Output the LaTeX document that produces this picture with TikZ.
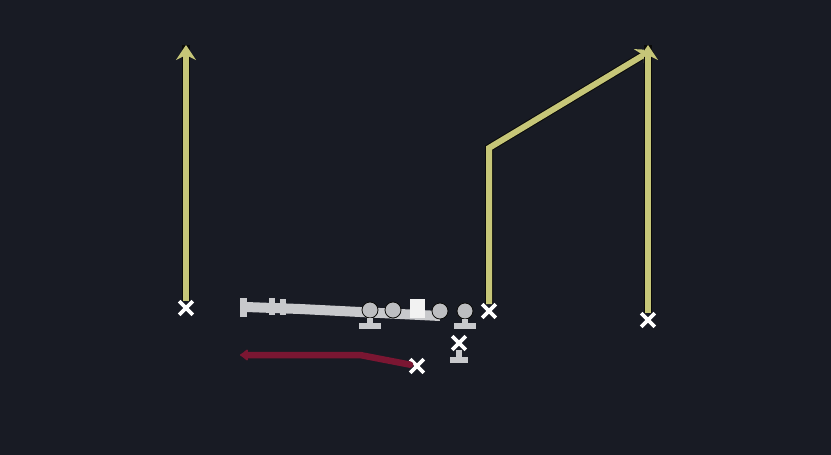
\documentclass[tikz,border=0pt]{standalone}
\usetikzlibrary{arrows.meta,shapes.misc}
\definecolor{bg}{RGB}{24,27,36}
\definecolor{route}{RGB}{198,198,120}
\definecolor{redroute}{RGB}{122,22,50}
\definecolor{lineg}{RGB}{200,201,204}
\definecolor{edge}{RGB}{10,10,8}
\tikzset{
  xmark/.style={cross out,draw=white,line width=3.6pt,minimum size=10pt,inner sep=0pt},
  yroute/.style={draw=route,line width=6pt,line join=miter},
  yshadow/.style={draw=edge,line width=8pt,line join=miter},
  rroute/.style={draw=redroute,line width=6.5pt,line cap=round},
  oline/.style={circle,fill=lineg!85!gray,draw=edge,line width=0.8pt,minimum size=16pt,inner sep=0pt},
  center/.style={rectangle,fill=white!90!gray,minimum width=15pt,minimum height=19pt,inner sep=0pt},
  gbar/.style={draw=lineg,line width=5.5pt},
  ytip/.style={-{Stealth[length=15pt,width=20pt,inset=5pt]}},
}
\begin{document}
\begin{tikzpicture}[x=1pt,y=-1pt]
\useasboundingbox[fill=bg] (0,0) rectangle (831,455);
% coordinates for route ends
\coordinate (lt) at (186,45);
\coordinate (mb) at (489,148);
\coordinate (mt) at (652,50);
\coordinate (rt) at (648,45);
\coordinate (rd) at (240,355);
\coordinate (rb) at (360,355);
% gray blocking / motion bar
\draw[gbar,line width=10pt] (246,307) -- (300,309) -- (440,316);
\draw[gbar,line width=7pt] (243,298) -- (243,317);
\draw[gbar,line width=6pt] (272,298) -- (272,315);
\draw[gbar,line width=6pt] (283,299) -- (283,315);
% offensive line
\node[oline] (ol1) at (370,310) {};
\node[oline] (ol2) at (393,310) {};
\node[center] (c) at (417,308) {};
\node[oline] (ol4) at (440,311) {};
\node[oline] (ol5) at (465,311) {};
\coordinate (b1) at (370,326);
\coordinate (b5) at (465,326);
\draw[gbar] (ol1) -- (b1);
\draw[gbar] (359,326) -- (381,326);
\draw[gbar] (ol5) -- (b5);
\draw[gbar] (454,326) -- (476,326);
% QB
\node[xmark] (qb) at (459,343) {};
\coordinate (qbb) at (459,359);
\draw[gbar] (qb) -- (qbb);
\draw[gbar] (450,360) -- (468,360);
% receivers
\node[xmark] (x1) at (186,308) {};
\node[xmark] (x2) at (489,311) {};
\node[xmark] (x3) at (648,320) {};
\node[xmark] (rb1) at (417,366) {};
% yellow routes
\draw[yshadow] (x1) -- (lt);
\draw[yroute,ytip] (x1) -- (lt);
\draw[yshadow] (x2) -- (mb) -- (mt);
\draw[yroute,ytip] (x2) -- (mb) -- (mt);
\draw[yshadow] (x3) -- (rt);
\draw[yroute,ytip] (x3) -- (rt);
% red route
\draw[rroute,-{Latex[round,length=9pt,width=14pt]}] (rb1) -- (rb) -- (rd);
\end{tikzpicture}
\end{document}
